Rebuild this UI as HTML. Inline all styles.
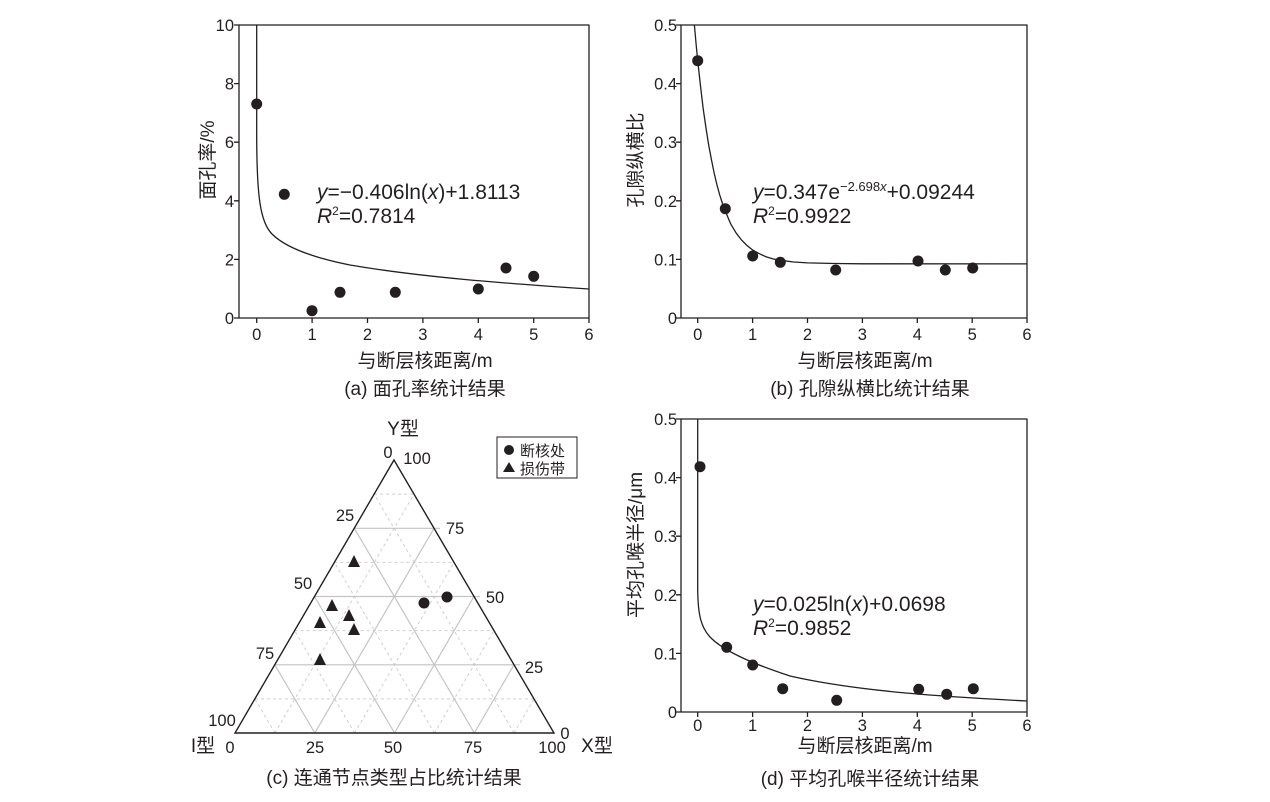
<!DOCTYPE html>
<html><head><meta charset="utf-8"><style>
html,body{margin:0;padding:0;background:#fff;}
svg{display:block;}
text{font-family:"Liberation Sans","Noto Sans CJK SC",sans-serif;fill:#231f20;}
.t{font-size:16.5px;}
.ttl{font-size:19px;}
.eq{font-size:21px;}
</style></head><body>
<svg width="1270" height="802" viewBox="0 0 1270 802" xmlns="http://www.w3.org/2000/svg">
<g stroke="#231f20" fill="none" stroke-width="1.3" stroke-linejoin="round">
<!-- panel a -->
<rect x="239" y="25" width="350" height="293"/>
<path d="M256.7,318v5M312.1,318v5M367.5,318v5M422.9,318v5M478.3,318v5M533.7,318v5M589,318v5"/>
<path d="M239,25h-5M239,83.6h-5M239,142.2h-5M239,200.8h-5M239,259.4h-5M239,318h-5"/>
<path d="M256.7,25 L256.7,140 C257,195 260,222 272,234 C285,247 310,257 350,265 C420,277 500,283 589,289"/>
<!-- panel b -->
<rect x="681" y="25" width="346" height="293"/>
<path d="M697.7,318v5M752.6,318v5M807.5,318v5M862.4,318v5M917.3,318v5M972.2,318v5M1027,318v5"/>
<path d="M681,25h-5M681,83.6h-5M681,142.2h-5M681,200.8h-5M681,259.4h-5M681,318h-5"/>
<polyline points="694.4,25 696,43 697.7,60.5 700.5,86 703.2,108.8 706,128 708.7,145.1 711.5,160 714.2,173.3 717,185 719.7,194.9 722.5,203.5 725.2,210.8 730.6,223.7 736,232.8 741.6,240.1 747,245.5 752.6,250 759.5,253.8 766.3,256.9 773,258.9 780.1,260.3 793.8,262 807.5,262.9 835,263.5 862.4,263.8 1027,263.9"/>
<!-- panel d -->
<rect x="681" y="419" width="346" height="293"/>
<path d="M697.7,712v5M752.6,712v5M807.5,712v5M862.4,712v5M917.3,712v5M972.2,712v5M1027,712v5"/>
<path d="M681,419h-5M681,477.6h-5M681,536.2h-5M681,594.8h-5M681,653.4h-5M681,712h-5"/>
<path d="M697.7,419 L697.7,590 C698,615 701,628 711,638 C724,651 750,663 790,676 C860,692 950,697 1027,701"/>
</g>
<g fill="#231f20">
<circle cx="256.7" cy="104" r="5.5"/><circle cx="284.3" cy="194.3" r="5.5"/><circle cx="312" cy="310.7" r="5.5"/><circle cx="340" cy="292.3" r="5.5"/><circle cx="395.3" cy="292.3" r="5.5"/><circle cx="478.3" cy="289" r="5.5"/><circle cx="506" cy="268" r="5.5"/><circle cx="533.7" cy="276.3" r="5.5"/>
<circle cx="697.7" cy="60.7" r="5.5"/><circle cx="725.3" cy="208.7" r="5.5"/><circle cx="752.7" cy="256" r="5.5"/><circle cx="780.3" cy="262.3" r="5.5"/><circle cx="835.7" cy="270" r="5.5"/><circle cx="918" cy="261" r="5.5"/><circle cx="945.3" cy="270" r="5.5"/><circle cx="972.7" cy="268" r="5.5"/>
<circle cx="700" cy="466.7" r="5.5"/><circle cx="726.7" cy="647.3" r="5.5"/><circle cx="752.7" cy="665" r="5.5"/><circle cx="782.7" cy="688.7" r="5.5"/><circle cx="836.7" cy="700.3" r="5.5"/><circle cx="918.7" cy="689.3" r="5.5"/><circle cx="946.7" cy="694.3" r="5.5"/><circle cx="973.3" cy="688.7" r="5.5"/>
</g>
<g class="t" text-anchor="middle">
<text x="256.7" y="340">0</text><text x="312.1" y="340">1</text><text x="367.5" y="340">2</text><text x="422.9" y="340">3</text><text x="478.3" y="340">4</text><text x="533.7" y="340">5</text><text x="589" y="340">6</text>
<text x="697.7" y="340">0</text><text x="752.6" y="340">1</text><text x="807.5" y="340">2</text><text x="862.4" y="340">3</text><text x="917.3" y="340">4</text><text x="972.2" y="340">5</text><text x="1027" y="340">6</text>
<text x="697.7" y="731">0</text><text x="752.6" y="731">1</text><text x="807.5" y="731">2</text><text x="862.4" y="731">3</text><text x="917.3" y="731">4</text><text x="972.2" y="731">5</text><text x="1027" y="731">6</text>
</g>
<g class="t" text-anchor="end">
<text x="234" y="31">10</text><text x="234" y="89.6">8</text><text x="234" y="148.2">6</text><text x="234" y="206.8">4</text><text x="234" y="265.4">2</text><text x="234" y="324">0</text>
<text x="677" y="31">0.5</text><text x="677" y="89.6">0.4</text><text x="677" y="148.2">0.3</text><text x="677" y="206.8">0.2</text><text x="677" y="265.4">0.1</text><text x="677" y="324">0</text>
<text x="677" y="425">0.5</text><text x="677" y="483.6">0.4</text><text x="677" y="542.2">0.3</text><text x="677" y="600.8">0.2</text><text x="677" y="659.4">0.1</text><text x="677" y="718">0</text>
</g>
<g class="ttl" text-anchor="middle">
<text x="425" y="367">与断层核距离/m</text>
<text x="425" y="395">(a) 面孔率统计结果</text>
<text x="865" y="367">与断层核距离/m</text>
<text x="870" y="395">(b) 孔隙纵横比统计结果</text>
<text x="865" y="752">与断层核距离/m</text>
<text x="870" y="785">(d) 平均孔喉半径统计结果</text>
<text x="394" y="784">(c) 连通节点类型占比统计结果</text>
<text transform="translate(214,160) rotate(-90)">面孔率/%</text>
<text transform="translate(642,160) rotate(-90)">孔隙纵横比</text>
<text transform="translate(642,545) rotate(-90)">平均孔喉半径/μm</text>
</g>
<g class="eq">
<text x="317" y="199"><tspan font-style="italic">y</tspan>=−0.406ln(<tspan font-style="italic">x</tspan>)+1.8113</text>
<text x="317" y="223"><tspan font-style="italic">R</tspan><tspan font-size="12" dy="-8">2</tspan><tspan dy="8">=0.7814</tspan></text>
<text x="753" y="199"><tspan font-style="italic">y</tspan>=0.347e<tspan font-size="13" dy="-8">−2.698<tspan font-style="italic">x</tspan></tspan><tspan dy="8">+0.09244</tspan></text>
<text x="753" y="223"><tspan font-style="italic">R</tspan><tspan font-size="12" dy="-8">2</tspan><tspan dy="8">=0.9922</tspan></text>
<text x="753" y="611"><tspan font-style="italic">y</tspan>=0.025ln(<tspan font-style="italic">x</tspan>)+0.0698</text>
<text x="753" y="635"><tspan font-style="italic">R</tspan><tspan font-size="12" dy="-8">2</tspan><tspan dy="8">=0.9852</tspan></text>
</g>
<g stroke="#cfcfcf" stroke-width="1" stroke-dasharray="3,3" fill="none">
<path d="M374.1,494.1H414M334.4,562.4H454M294.6,630.6H494M254.9,698.9H534"/>
<path d="M274.9,733L414,494.1M354.6,733L454,562.4M434.4,733L494,630.6M514.1,733L534,698.9"/>
<path d="M274.9,733L254.9,698.9M354.6,733L294.6,630.6M434.4,733L334.4,562.4M514.1,733L374.1,494.1"/>
</g>
<g stroke="#c4c4c4" stroke-width="1.2" fill="none">
<path d="M354.3,528.3H440M314.5,596.5H480M274.8,664.8H520"/>
<path d="M314.8,733L434,528.3M394.5,733L474,596.5M474.3,733L514,664.8"/>
<path d="M314.8,733L274.8,664.8M394.5,733L314.5,596.5M474.3,733L354.3,528.3"/>
</g>
<polygon points="394,460 235,733 554,733" fill="none" stroke="#231f20" stroke-width="1.4"/>
<g fill="#231f20">
<polygon points="354,555 348,567 360,567"/><polygon points="332,599 326,611 338,611"/><polygon points="349,609 343,621 355,621"/><polygon points="320,616 314,628 326,628"/><polygon points="354,623 348,635 360,635"/><polygon points="320,653 314,665 326,665"/>
<circle cx="424" cy="603" r="5.5"/><circle cx="447" cy="597" r="5.5"/>
</g>
<g class="t" text-anchor="middle">
<text x="388" y="458">0</text><text x="417" y="464">100</text>
<text x="345" y="521">25</text><text x="303" y="589">50</text><text x="265" y="659">75</text><text x="222" y="726">100</text>
<text x="455" y="534">75</text><text x="495" y="603">50</text><text x="534" y="673">25</text><text x="565" y="739">0</text>
<text x="230" y="753">0</text><text x="315" y="753">25</text><text x="393" y="753">50</text><text x="473" y="753">75</text><text x="552" y="753">100</text>
</g>
<g class="ttl" text-anchor="middle">
<text x="203" y="752">I型</text><text x="597" y="752">X型</text><text x="403" y="435">Y型</text>
</g>
<rect x="497" y="437" width="80" height="41" fill="#fff" stroke="#231f20" stroke-width="1"/>
<circle cx="509" cy="450" r="5" fill="#231f20"/>
<polygon points="509,462 503,472 515,472" fill="#231f20"/>
<text x="520" y="456" font-size="15">断核处</text>
<text x="520" y="474" font-size="15">损伤带</text>
</svg>
</body></html>
